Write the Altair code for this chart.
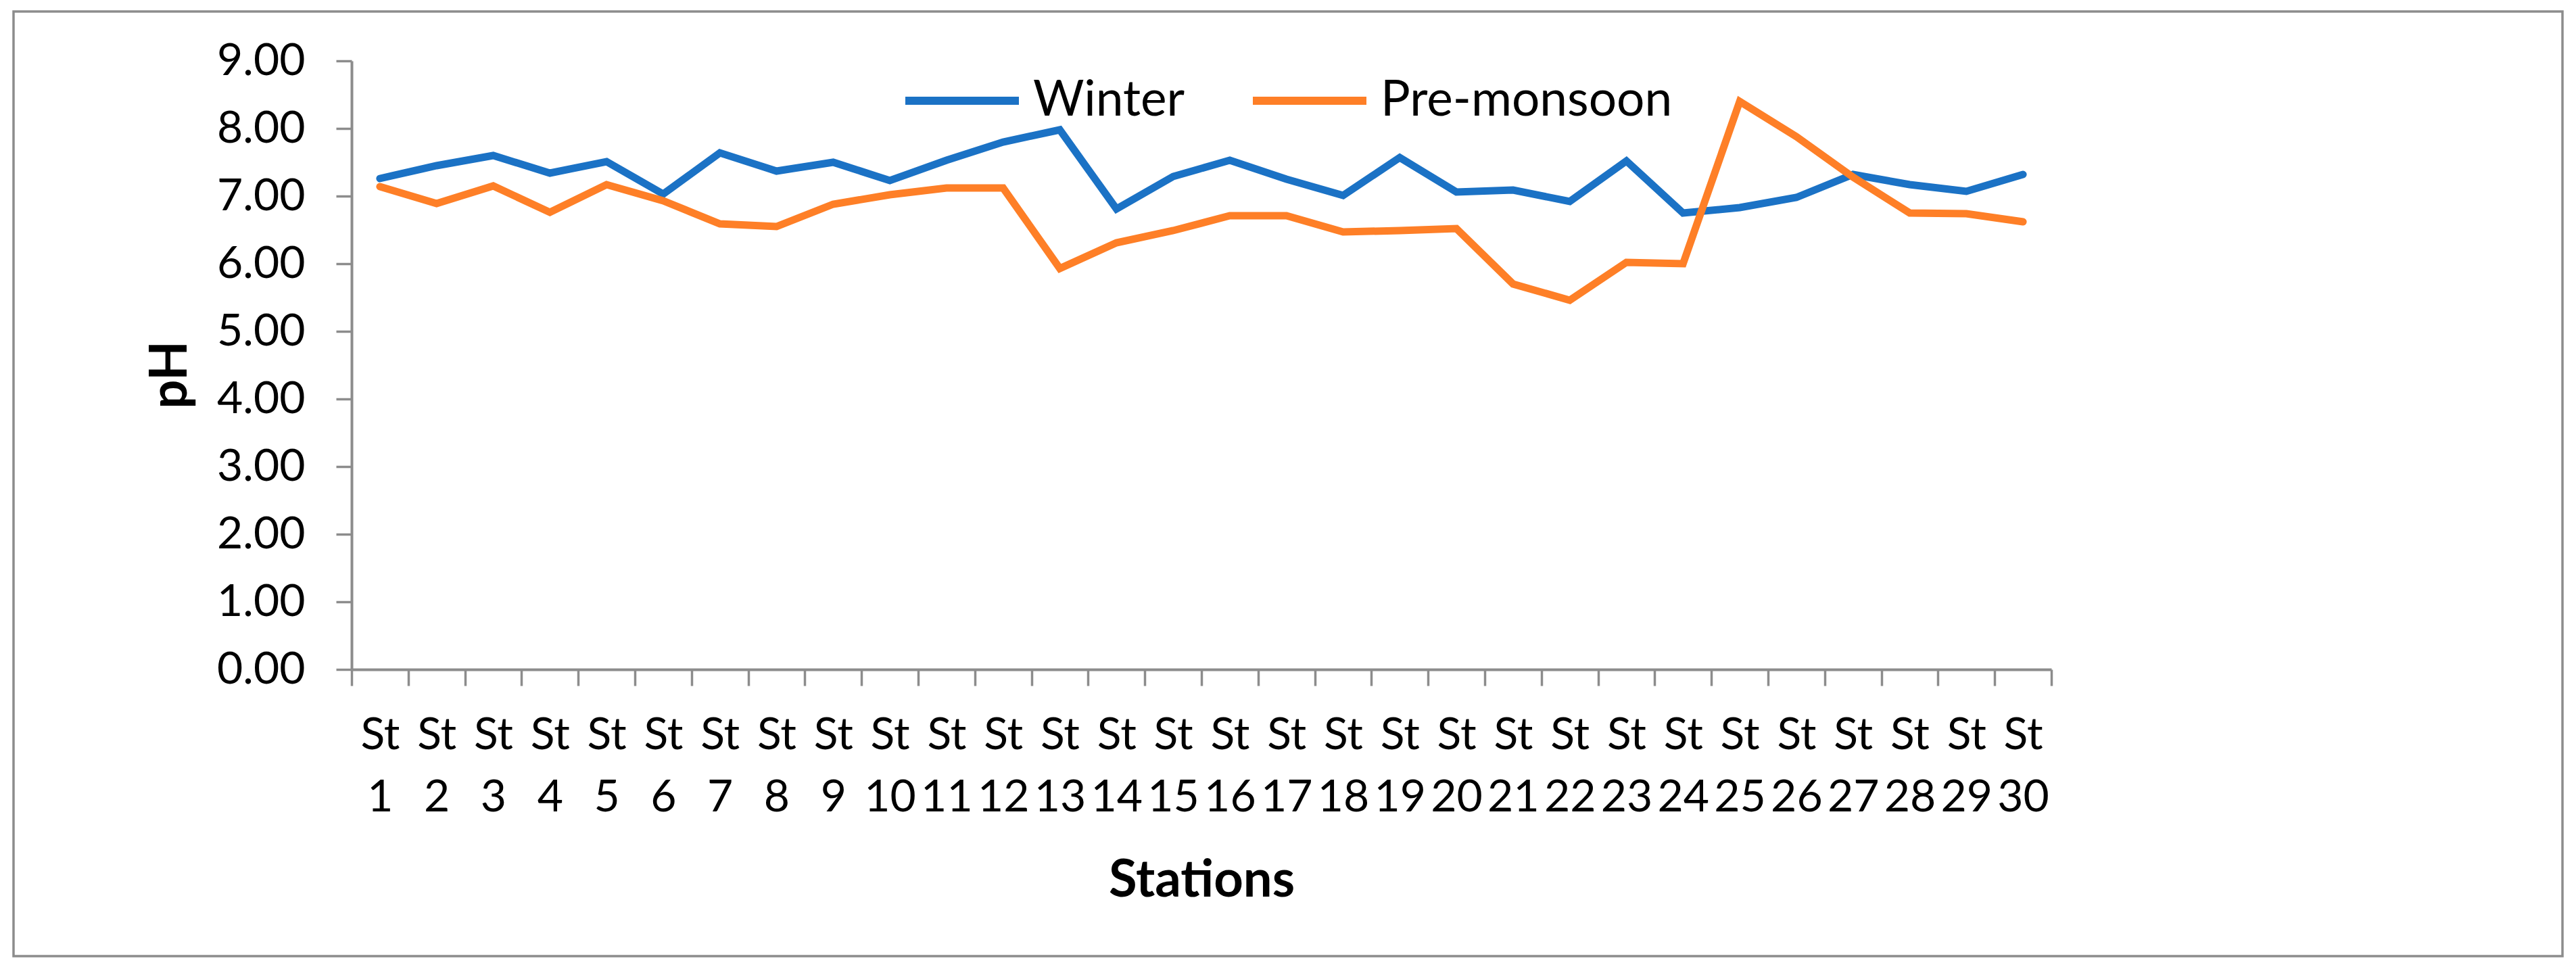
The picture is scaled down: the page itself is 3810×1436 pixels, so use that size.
import altair as alt
import pandas as pd

stations = ["St 1", "St 2", "St 3", "St 4", "St 5", "St 6", "St 7", "St 8", "St 9", "St 10",
            "St 11", "St 12", "St 13", "St 14", "St 15", "St 16", "St 17", "St 18", "St 19", "St 20",
            "St 21", "St 22", "St 23", "St 24", "St 25", "St 26", "St 27", "St 28", "St 29", "St 30"]
winter = [7.26, 7.45, 7.60, 7.34, 7.51, 7.03, 7.64, 7.37, 7.50, 7.23,
          7.53, 7.80, 7.98, 6.81, 7.29, 7.53, 7.25, 7.01, 7.57, 7.06,
          7.09, 6.92, 7.52, 6.75, 6.83, 6.98, 7.32, 7.17, 7.07, 7.32]
pre_monsoon = [7.14, 6.89, 7.15, 6.76, 7.17, 6.93, 6.59, 6.55, 6.88, 7.02,
               7.12, 7.12, 5.93, 6.31, 6.49, 6.71, 6.71, 6.47, 6.49, 6.52,
               5.70, 5.46, 6.02, 6.00, 8.40, 7.88, 7.28, 6.75, 6.74, 6.62]
series_names = ["Winter", "Pre-monsoon"]
series_colors = ["#1B72C5", "#FE7F27"]
y_ticks = [0, 1, 2, 3, 4, 5, 6, 7, 8, 9]

rows = []
for name, vals in zip(series_names, [winter, pre_monsoon]):
    for s, v in zip(stations, vals):
        rows.append({"station": s, "season": name, "ph": v})
df = pd.DataFrame(rows)

FONT = "Lato"
GREY = "#8C8C8C"

lines = alt.Chart(df).mark_line(strokeWidth=11, strokeCap="round").encode(
    x=alt.X("station:N", sort=stations, bandPosition=0.5,
            scale=alt.Scale(type="band", paddingInner=0, paddingOuter=0),
            axis=alt.Axis(title="Stations", labelAngle=0,
                          labelExpr="split(datum.label, ' ')",
                          labelLineHeight=92, tickBand="extent",
                          labelPadding=41, tickSize=24, labelOverlap=False,
                          labelFlush=False, grid=False,
                          titleY=335, titleBaseline="alphabetic")),
    y=alt.Y("ph:Q", scale=alt.Scale(domain=[0, 9], nice=False, zero=True),
            axis=alt.Axis(title="pH", values=y_ticks, format=".2f", grid=False,
                          tickSize=23, labelPadding=46,
                          titleX=-245, titleY=464, titleAngle=270,
                          titleBaseline="alphabetic", titleAlign="center")),
    color=alt.Color("season:N",
                    scale=alt.Scale(domain=series_names, range=series_colors),
                    legend=alt.Legend(title=None, orient="none", legendX=813, legendY=-31,
                                      direction="horizontal", symbolType="stroke",
                                      symbolSize=28224, symbolStrokeWidth=12,
                                      labelFont=FONT, labelFontSize=73, labelOffset=15,
                                      columnPadding=76, padding=0, labelLimit=1000,
                                      labelColor="black")),
)

frame = alt.Chart(alt.Data(values=[{"a": 1}])).mark_rect(
    filled=False, stroke=GREY, strokeWidth=3.5
).encode(
    x=alt.value(-500), x2=alt.value(3270), y=alt.value(-73), y2=alt.value(1324)
)

chart = alt.layer(frame, lines).properties(
    width=2514, height=900,
    autosize=alt.AutoSizeParams(type="none"),
    padding={"left": 512, "top": 82, "right": 760, "bottom": 436},
).configure_axis(
    domainColor=GREY, domainWidth=4, tickColor=GREY, tickWidth=3.5,
    labelFont=FONT, labelFontSize=66, labelColor="black",
    titleFont=FONT, titleFontSize=76, titleFontWeight="bold", titleColor="black",
).configure_view(strokeWidth=0)

chart.save("out.html", embed_options={"renderer": "svg", "actions": False})
